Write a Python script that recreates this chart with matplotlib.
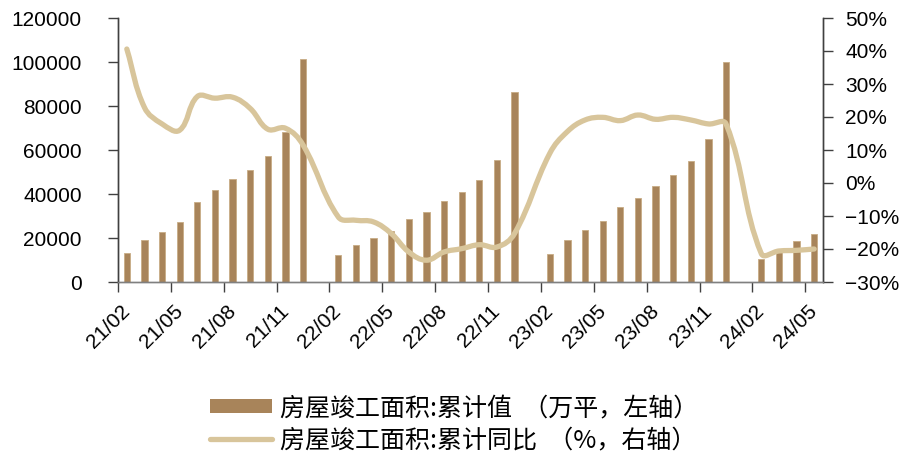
import math
import matplotlib
matplotlib.use("Agg")
import matplotlib.pyplot as plt
from matplotlib.path import Path
from matplotlib.patches import PathPatch, Patch
from matplotlib.lines import Line2D

plt.rcParams['font.family'] = ['Liberation Sans', 'DejaVu Sans']

# ---- data ----
months = ['21/02', '21/03', '21/04', '21/05', '21/06', '21/07', '21/08', '21/09', '21/10', '21/11', '21/12',
          '22/02', '22/03', '22/04', '22/05', '22/06', '22/07', '22/08', '22/09', '22/10', '22/11', '22/12',
          '23/02', '23/03', '23/04', '23/05', '23/06', '23/07', '23/08', '23/09', '23/10', '23/11', '23/12',
          '24/02', '24/03', '24/04', '24/05']
completion = [13364, 18983, 22627, 27487, 36447, 41610, 46621, 51025, 57251, 68337, 101443,
              12149, 16857, 19894, 23083, 28550, 32042, 36750, 40850, 46318, 55581, 86257,
              12908, 19286, 23538, 27790, 33865, 38269, 43736, 48747, 55125, 65148, 99924,
              10326, 15186, 18830, 22020]
yoy = [40.6, 22.9, 17.9, 16.0, 26.2, 25.7, 26.0, 22.6, 16.3, 16.6, 11.5,
       -10.3, -11.3, -11.8, -15.3, -20.9, -23.4, -20.9, -19.9, -18.7, -19.4, -15.3,
       9.0, 15.6, 19.1, 19.9, 18.9, 20.6, 19.3, 19.9, 19.1, 17.9, 17.9,
       -21.4, -20.6, -20.4, -20.0]
tick_labels = ['21/02', '21/05', '21/08', '21/11', '22/02', '22/05', '22/08',
               '22/11', '23/02', '23/05', '23/08', '23/11', '24/02', '24/05']
left_ticks = [0, 20000, 40000, 60000, 80000, 100000, 120000]
right_ticks = [-30, -20, -10, 0, 10, 20, 30, 40, 50]
bar_label = '房屋竣工面积:累计值  （万平，左轴）'
line_label = '房屋竣工面积:累计同比  （%，右轴）'

bar_color = '#A8845A'
line_color = '#D8C59B'
axis_color = '#404040'


def month_index(label):
    yy, mm = label.split('/')
    return (int(yy) - 21) * 12 + int(mm) - 2


xs = [month_index(m) for m in months]
tick_pos = [month_index(t) for t in tick_labels]

fig = plt.figure(figsize=(9.03, 4.55), dpi=100)
ax = fig.add_axes([118 / 903, 1 - 282 / 455, (823 - 118) / 903, (282 - 18) / 455])
ax2 = ax.twinx()

ax.bar(xs, completion, width=0.36, color=bar_color, edgecolor='#C8AC85', linewidth=0.6, zorder=2)

ax.set_xlim(-0.5, 39.5)
ax.set_ylim(0, 120000)
ax2.set_ylim(-30, 50)

# smoothed line: Bezier through the data points, control lengths scaled by
# neighbouring segment lengths measured in display space (Excel-like smoothing)
bb = ax.get_position()
sx = bb.width * fig.get_figwidth() * fig.dpi / 40.0
sy = bb.height * fig.get_figheight() * fig.dpi / 80.0
pts = list(zip(xs, yoy))
n = len(pts)
tension = 0.4


def dist(a, b):
    return math.hypot((a[0] - b[0]) * sx, (a[1] - b[1]) * sy)


ctrl_in, ctrl_out = [], []
for i in range(n):
    p1 = pts[i]
    p0 = pts[i - 1] if i > 0 else p1
    p2 = pts[i + 1] if i < n - 1 else p1
    d01, d12 = dist(p0, p1), dist(p1, p2)
    tot = d01 + d12 if d01 + d12 > 0 else 1.0
    fa, fb = tension * d01 / tot, tension * d12 / tot
    ctrl_in.append((p1[0] - fa * (p2[0] - p0[0]), p1[1] - fa * (p2[1] - p0[1])))
    ctrl_out.append((p1[0] + fb * (p2[0] - p0[0]), p1[1] + fb * (p2[1] - p0[1])))

verts = [pts[0]]
codes = [Path.MOVETO]
for i in range(n - 1):
    verts += [ctrl_out[i], ctrl_in[i + 1], pts[i + 1]]
    codes += [Path.CURVE4] * 3
ax2.add_patch(PathPatch(Path(verts, codes), facecolor='none', edgecolor=line_color,
                        linewidth=3.8, capstyle='round', joinstyle='round', zorder=3))

ax.set_yticks(left_ticks)
ax.set_yticklabels([str(v) for v in left_ticks], fontsize=15)
ax2.set_yticks(right_ticks)
ax2.set_yticklabels([f"{v}%".replace('-', '\u2212') for v in right_ticks], fontsize=15)

ax.set_xticks([p - 0.5 for p in tick_pos])
ax.set_xticklabels([])
ax.set_xticks(tick_pos, minor=True)
ax.set_xticklabels(tick_labels, minor=True, rotation=45, ha='right', va='center',
                   rotation_mode='anchor', fontsize=15)
ax.tick_params(axis='x', which='minor', length=0, pad=19)
ax.tick_params(axis='x', which='major', length=7, width=1, color=axis_color, direction='out')
ax.tick_params(axis='y', length=7, width=1, color=axis_color, pad=19)
ax2.tick_params(axis='y', length=7, width=1, color=axis_color, pad=9)

for a in (ax, ax2):
    a.spines['top'].set_visible(False)
    for s in ('left', 'right'):
        a.spines[s].set_color(axis_color)
        a.spines[s].set_linewidth(1)
    a.spines['bottom'].set_color('#808080')
    a.spines['bottom'].set_linewidth(1)
ax2.set_zorder(ax.get_zorder() + 1)
ax2.patch.set_visible(False)

handles = [Patch(facecolor=bar_color, edgecolor='none'),
           Line2D([], [], color=line_color, linewidth=3.8, solid_capstyle='round')]
fig.legend(handles, [bar_label, line_label], loc='upper left',
           bbox_to_anchor=(210 / 903, 1 - 395 / 455), frameon=False,
           prop={'family': ['Noto Sans CJK SC', 'DejaVu Sans'], 'size': 18},
           handlelength=2.48, handleheight=0.44, handletextpad=0.32,
           borderpad=0, borderaxespad=0, labelspacing=0.24)

fig.savefig('out.png', dpi=100)
